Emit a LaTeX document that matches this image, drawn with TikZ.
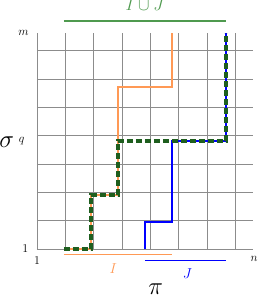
\documentclass[tikz,border=0pt]{standalone}
\usepackage{amsmath}
\definecolor{orangeI}{HTML}{FF9955}
\definecolor{blueJ}{HTML}{0000FF}
\definecolor{greenU}{HTML}{4F9A4F}
\definecolor{greenD}{HTML}{1E5E1E}

\begin{document}
\begin{tikzpicture}[x=27bp,y=27bp,line width=0.9pt,
  gridline/.style={gray!90,line width=0.8pt},
  pathI/.style={orangeI,line width=1.5pt},
  pathJ/.style={blueJ,line width=1.8pt},
  pathU/.style={greenD,line width=3.4bp,dash pattern=on 6bp off 3bp},
  tick/.style={font=\fontsize{13}{15}\selectfont,inner sep=1pt},
  biglabel/.style={font=\fontsize{23}{27}\selectfont,inner sep=1pt}]
\useasboundingbox (-1.370,-1.704) rectangle (8.185,9.222);
% 网格
\draw[gridline] (0,0) grid (8,8);
% 坐标标注
\node[tick] (xone) at (0,-0.44) {$1$};
\node[tick] (xn) at (8.04,-0.37) {$n$};
\node[tick] (yone) at (-0.43,0) {$1$};
\node[tick] (yq) at (-0.57,4) {$q$};
\node[tick] (ym) at (-0.5,8) {$m$};
\node[biglabel] (sigma) at (-1.12,3.96) {$\sigma$};
\node[biglabel] (pi) at (4.4,-1.50) {$\pi$};
% 路径 I, J 与 I∪J
\draw[pathI] (1,0) -- (2,0) -- (2,2) -- (3,2) -- (3,6) -- (5,6) -- (5,8);
\draw[pathJ] (4,0) -- (4,1) -- (5,1) -- (5,4) -- (7,4) -- (7,8);
\draw[pathU] (1,0) -- (2,0) -- (2,2) -- (3,2) -- (3,4) -- (7,4) -- (7,8);
% 区间
\draw[orangeI,line width=1.1pt] (1,-0.196) -- (5,-0.196);
\node[orangeI,font=\Large] (labI) at (2.83,-0.72) {$I$};
\draw[blueJ,line width=1.1pt] (4,-0.41) -- (7,-0.41);
\node[blueJ,font=\Large] (labJ) at (5.57,-0.90) {$J$};
\draw[greenU,line width=1.3pt] (1,8.444) -- (7,8.444);
\node[greenU,font=\fontsize{19}{23}\selectfont,anchor=base] (labU) at (4,8.85) {$I\cup J$};
\end{tikzpicture}
\end{document}
